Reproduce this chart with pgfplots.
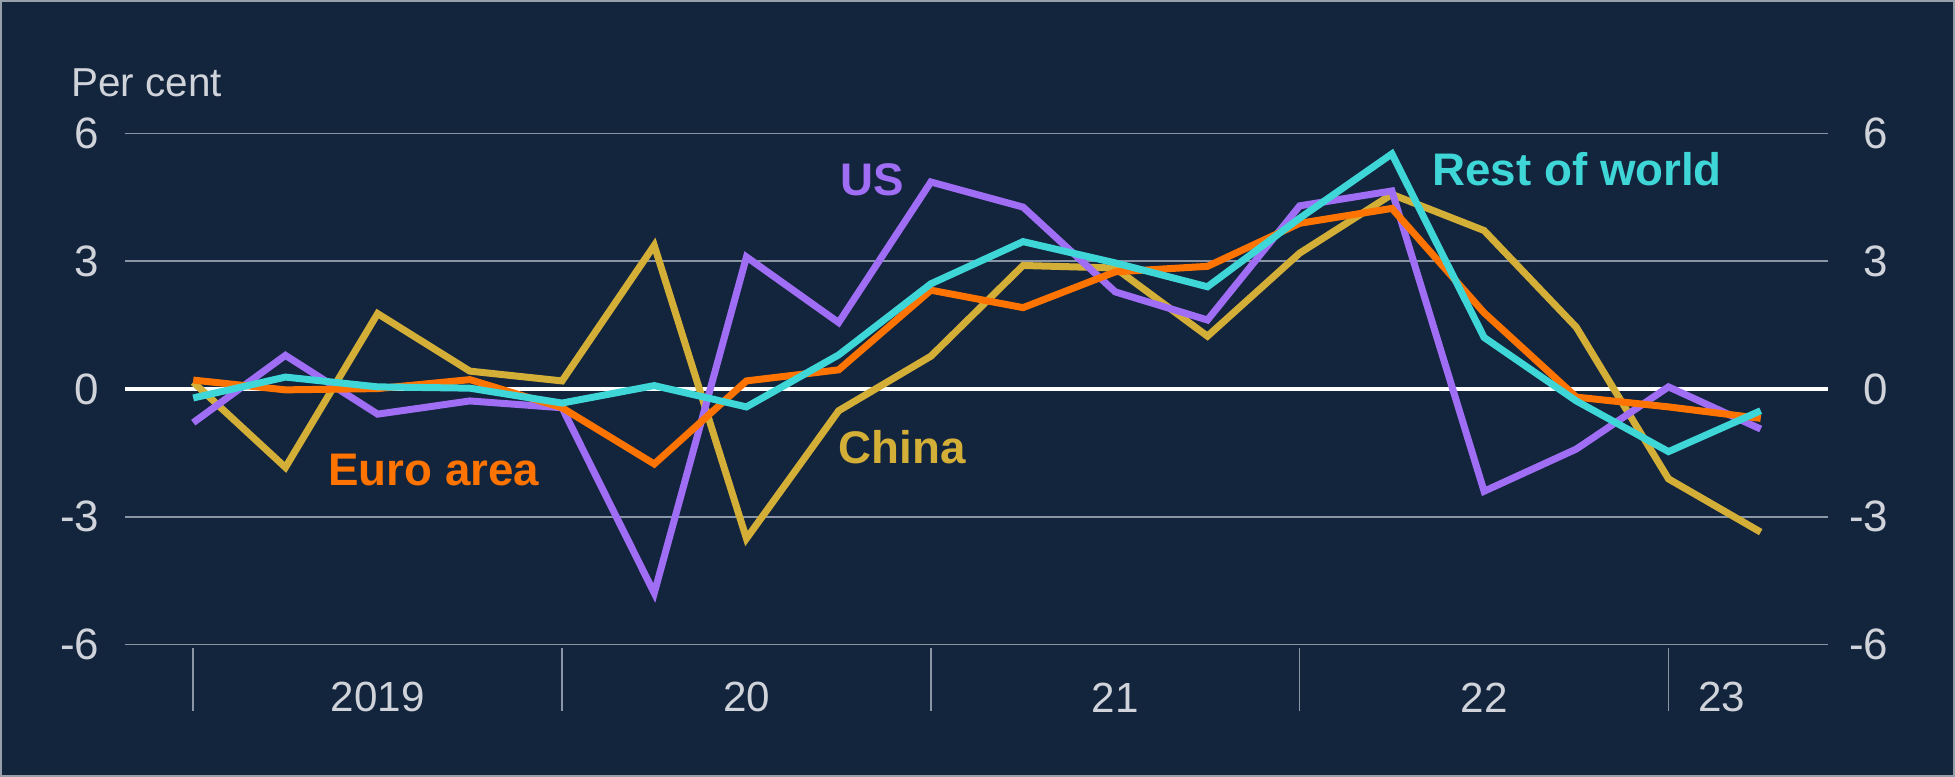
\documentclass[border=0pt]{standalone}
\usepackage{fontspec}
\setmainfont{Liberation Sans}
\usepackage{pgfplots}
\pgfplotsset{compat=1.18}
\definecolor{bg}{HTML}{13243D}
\definecolor{txt}{HTML}{D0D4DA}
\definecolor{gridc}{HTML}{8A95A5}
\definecolor{usc}{HTML}{A06EF5}
\definecolor{euc}{HTML}{FF7300}
\definecolor{cnc}{HTML}{D4AF37}
\definecolor{rwc}{HTML}{3ED6D6}
\begin{document}
\begin{tikzpicture}
\fill[bg] (-12.5mm,-13.24mm) rectangle (183mm,64.46mm);
\draw[txt!70!bg, line width=0.25mm] (-12.4mm,-13.14mm) rectangle (182.9mm,64.36mm);
\pgfplotsset{
  base/.style={
    at={(0,0)}, anchor=south west,
    scale only axis, width=170.3mm, height=51.12mm,
    xmin=-0.74, xmax=17.73, ymin=-6, ymax=6,
    axis line style={draw=none},
    major tick style={draw=none},
    xtick=\empty,
    ytick={-6,-3,0,3,6},
    /pgf/number format/assume math mode=true,
    tick label style={font=\fontsize{12.5}{14}\selectfont, text=txt},
    clip=false,
  }
}
\begin{axis}[base,
  yticklabel pos=left,
  yticklabel style={anchor=east, inner sep=0pt, xshift=-2.5mm},
  ymajorgrids,
  grid style={gridc, line width=0.15mm},
  extra y ticks={0},
  extra y tick labels={},
  extra y tick style={grid style={white, line width=0.35mm}},
]
\addplot[cnc, line width=0.7mm] coordinates {
(0,0.16) (1,-1.84) (2,1.77) (3,0.42) (4,0.19) (5,3.37) (6,-3.51) (7,-0.51) (8,0.77)
(9,2.90) (10,2.84) (11,1.24) (12,3.19) (13,4.57) (14,3.72) (15,1.45) (16,-2.11) (17,-3.36)};
\addplot[usc, line width=0.7mm] coordinates {
(0,-0.79) (1,0.79) (2,-0.59) (3,-0.28) (4,-0.44) (5,-4.79) (6,3.10) (7,1.56) (8,4.86)
(9,4.27) (10,2.28) (11,1.62) (12,4.30) (13,4.65) (14,-2.40) (15,-1.41) (16,0.05) (17,-0.94)};
\addplot[euc, line width=0.7mm] coordinates {
(0,0.21) (1,-0.02) (2,0.01) (3,0.22) (4,-0.44) (5,-1.76) (6,0.19) (7,0.45) (8,2.32)
(9,1.91) (10,2.75) (11,2.88) (12,3.89) (13,4.24) (14,1.79) (15,-0.19) (16,-0.42) (17,-0.69)};
\addplot[rwc, line width=0.7mm] coordinates {
(0,-0.21) (1,0.28) (2,0.05) (3,0.02) (4,-0.33) (5,0.08) (6,-0.42) (7,0.80) (8,2.47)
(9,3.46) (10,2.96) (11,2.40) (12,4.01) (13,5.52) (14,1.21) (15,-0.28) (16,-1.47) (17,-0.51)};
% year separators and labels
\foreach \s in {0,4,8,12,16}{
  \edef\tmp{\noexpand\draw[gridc, line width=0.15mm] (axis cs:\s,-6.08) -- (axis cs:\s,-7.57);}\tmp
}
\node[text=txt, font=\fontsize{12}{14}\selectfont] at (axis cs:2,-7.24) {2019};
\node[text=txt, font=\fontsize{12}{14}\selectfont] at (axis cs:6,-7.24) {20};
\node[text=txt, font=\fontsize{12}{14}\selectfont] at (axis cs:10,-7.24) {21};
\node[text=txt, font=\fontsize{12}{14}\selectfont] at (axis cs:14,-7.24) {22};
\node[text=txt, font=\fontsize{12}{14}\selectfont] at (axis cs:16.58,-7.24) {23};
% series labels
\node[text=usc, font=\fontsize{13}{15}\selectfont\bfseries] at (axis cs:7.36,4.92) {US};
\node[text=rwc, font=\fontsize{13}{15}\selectfont\bfseries] at (axis cs:15.01,5.17) {Rest of world};
\node[text=euc, font=\fontsize{13}{15}\selectfont\bfseries] at (axis cs:2.61,-1.91) {Euro area};
\node[text=cnc, font=\fontsize{13}{15}\selectfont\bfseries] at (axis cs:7.69,-1.37) {China};
\end{axis}
\begin{axis}[base,
  yticklabel pos=right,
  yticklabel style={anchor=east, inner sep=0pt, xshift=6.1mm},
]
\end{axis}
\node[anchor=base west, text=txt, font=\fontsize{11.5}{14}\selectfont] at (-6.6mm,54.8mm) {Per cent};
\pgfresetboundingbox
\path (-12.5mm,-13.24mm) rectangle (183mm,64.46mm);
\end{tikzpicture}
\end{document}
